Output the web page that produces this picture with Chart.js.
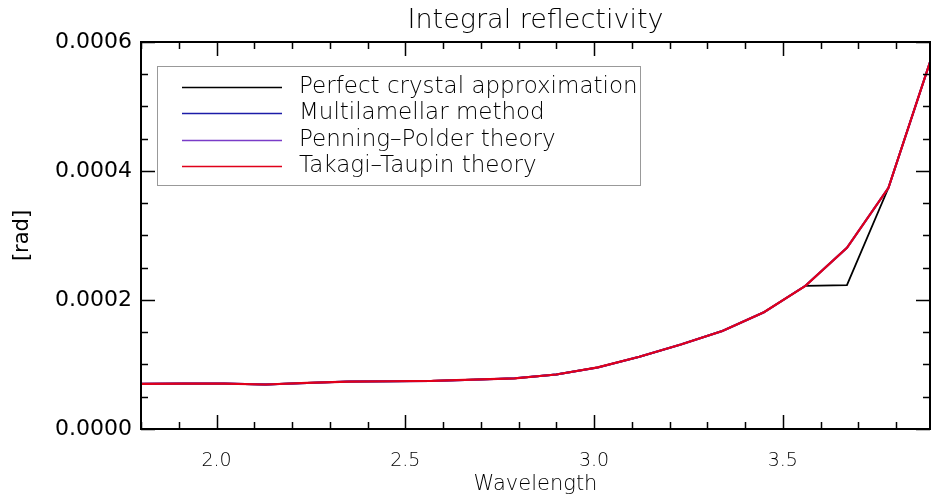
<!DOCTYPE html>
<html>
<head>
<meta charset="utf-8">
<script src="https://cdn.jsdelivr.net/npm/chart.js@4"></script>
<style>
  html, body { margin: 0; padding: 0; background: #fff; }
  canvas { display: block; }
</style>
</head>
<body>
<canvas id="refl" width="933" height="497"></canvas>
<script>
const wavelength = [1.80, 1.91, 2.02, 2.13, 2.24, 2.35, 2.46, 2.57, 2.68, 2.79,
                    2.90, 3.01, 3.12, 3.23, 3.34, 3.45, 3.56, 3.67, 3.78, 3.89];

const perfect      = [7.0e-5, 7.05e-5, 7.05e-5, 6.9e-5, 7.15e-5, 7.35e-5, 7.4e-5, 7.45e-5, 7.65e-5, 7.85e-5,
                      8.45e-5, 9.55e-5, 1.12e-4, 1.31e-4, 1.52e-4, 1.81e-4, 2.22e-4, 2.23e-4, 3.74e-4, 5.69e-4];
const multilamellar = [7.0e-5, 7.05e-5, 7.05e-5, 6.9e-5, 7.15e-5, 7.35e-5, 7.4e-5, 7.45e-5, 7.65e-5, 7.85e-5,
                      8.45e-5, 9.55e-5, 1.12e-4, 1.31e-4, 1.52e-4, 1.81e-4, 2.22e-4, 2.81e-4, 3.74e-4, 5.69e-4];
const penning      = [7.0e-5, 7.05e-5, 7.05e-5, 6.9e-5, 7.15e-5, 7.35e-5, 7.4e-5, 7.45e-5, 7.65e-5, 7.85e-5,
                      8.45e-5, 9.55e-5, 1.12e-4, 1.31e-4, 1.52e-4, 1.81e-4, 2.22e-4, 2.81e-4, 3.74e-4, 5.69e-4];
const takagi       = [7.0e-5, 7.05e-5, 7.05e-5, 6.9e-5, 7.15e-5, 7.35e-5, 7.4e-5, 7.45e-5, 7.65e-5, 7.85e-5,
                      8.45e-5, 9.55e-5, 1.12e-4, 1.31e-4, 1.52e-4, 1.81e-4, 2.22e-4, 2.81e-4, 3.74e-4, 5.69e-4];

const seriesNames = ["Perfect crystal approximation", "Multilamellar method", "Penning\u2013Polder theory", "Takagi\u2013Taupin theory"];
const xTicks = [2.0, 2.5, 3.0, 3.5];
const yTicks = [0, 0.0002, 0.0004, 0.0006];

const thinFont = "'DejaVu Sans'";

const toPoints = (ys) => ys.map((y, i) => ({ x: wavelength[i], y: y }));

// later series are plotted over earlier ones
const line = (label, data, color, width, order) => ({
    label: label,
    data: toPoints(data),
    borderColor: color,
    borderWidth: width,
    pointRadius: 0,
    tension: 0,
    fill: false,
    order: order,
});

// box around the plot, ticks pointing inward on all four sides, title and legend
const idlFrame = {
    id: "idlFrame",
    afterDraw(chart) {
        const ctx = chart.ctx;
        const a = chart.chartArea;
        const xs = chart.scales.x, ys = chart.scales.y;
        ctx.save();
        ctx.strokeStyle = "#000";
        ctx.lineWidth = 2;
        ctx.strokeRect(a.left, a.top, a.right - a.left, a.bottom - a.top);

        ctx.lineWidth = 1.5;
        ctx.beginPath();
        for (let v = 1.8; v <= 3.9001; v += 0.1) {
            const px = Math.round(xs.getPixelForValue(v)) + 0.5;
            const major = Math.abs(v * 2 - Math.round(v * 2)) < 1e-6;
            const len = major ? 14 : 7;
            ctx.moveTo(px, a.bottom); ctx.lineTo(px, a.bottom - len);
            ctx.moveTo(px, a.top); ctx.lineTo(px, a.top + len);
        }
        for (let k = 0; k <= 12; k++) {
            const v = k * 0.00005;
            const py = Math.round(ys.getPixelForValue(v)) + 0.5;
            const len = (k % 4 === 0) ? 14 : 7;
            ctx.moveTo(a.left, py); ctx.lineTo(a.left + len, py);
            ctx.moveTo(a.right, py); ctx.lineTo(a.right - len, py);
        }
        ctx.stroke();

        // title
        ctx.fillStyle = "#000";
        ctx.font = "200 27px " + thinFont;
        ctx.textAlign = "center";
        ctx.textBaseline = "alphabetic";
        ctx.fillText("Integral reflectivity", (a.left + a.right) / 2, 28);

        // legend
        ctx.strokeStyle = "#999";
        ctx.lineWidth = 1;
        ctx.strokeRect(157.5, 66.5, 483, 119);
        ctx.font = "200 23px " + thinFont;
        ctx.textAlign = "left";
        ctx.textBaseline = "middle";
        chart.data.datasets.forEach((ds, i) => {
            const y = 87 + i * 26.4;
            ctx.strokeStyle = ds.borderColor;
            ctx.lineWidth = 1.5;
            ctx.beginPath();
            ctx.moveTo(182, Math.round(y) + 0.5);
            ctx.lineTo(282, Math.round(y) + 0.5);
            ctx.stroke();
            ctx.fillStyle = "#000";
            ctx.fillText(ds.label, 299, y);
        });
        ctx.restore();
    }
};

new Chart(document.getElementById("refl"), {
    type: "line",
    data: {
        datasets: [
            line(seriesNames[0], perfect, "#000000", 1.8, 3),
            line(seriesNames[1], multilamellar, "#1c1ca8", 2, 2),
            line(seriesNames[2], penning, "#7a3cc8", 2, 1),
            line(seriesNames[3], takagi, "#e0001a", 2.2, 0),
        ],
    },
    options: {
        responsive: false,
        animation: false,
        devicePixelRatio: 1,
        layout: { padding: { top: 42, right: 3, left: 0, bottom: 0 } },
        plugins: {
            legend: { display: false },
            title: { display: false },
            tooltip: { enabled: false },
        },
        scales: {
            x: {
                type: "linear",
                min: 1.8,
                max: 3.89,
                grid: { display: false, drawTicks: false },
                border: { display: false },
                afterBuildTicks: (s) => { s.ticks = xTicks.map(v => ({ value: v })); },
                afterFit: (s) => { s.height = 68; },
                ticks: {
                    padding: 21,
                    color: "#000",
                    font: { family: thinFont, size: 19, weight: 200 },
                    callback: (v) => v.toFixed(1),
                },
                title: {
                    display: true,
                    text: "Wavelength",
                    color: "#000",
                    font: { family: thinFont, size: 21, weight: 200 },
                    padding: { top: 0, bottom: 0 },
                },
            },
            y: {
                min: 0,
                max: 0.0006,
                grid: { display: false, drawTicks: false },
                border: { display: false },
                afterBuildTicks: (s) => { s.ticks = yTicks.map(v => ({ value: v })); },
                afterFit: (s) => { s.width = 141; },
                ticks: {
                    padding: 9,
                    color: "#000",
                    font: { family: "'DejaVu Sans'", size: 22 },
                    callback: (v) => v.toFixed(4),
                },
                title: {
                    display: true,
                    text: "[rad]",
                    color: "#000",
                    font: { family: "'DejaVu Sans'", size: 21 },
                    padding: { top: 10, bottom: 0 },
                },
            },
        },
    },
    plugins: [idlFrame],
});
</script>
</body>
</html>
